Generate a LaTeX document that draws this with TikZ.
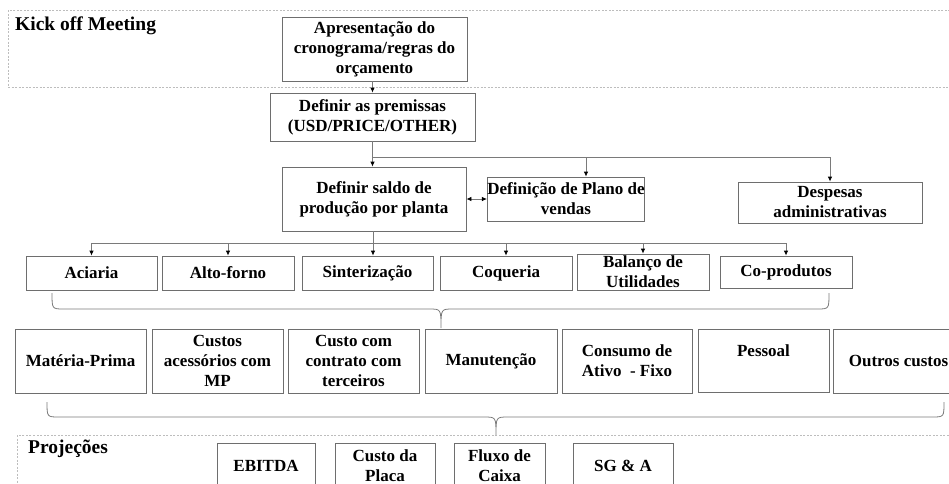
\documentclass[tikz,border=0pt]{standalone}
\usepackage{fontspec}
\setmainfont{Liberation Serif}
\usetikzlibrary{arrows.meta}
\definecolor{boxgray}{HTML}{6E6E6E}
\definecolor{linegray}{HTML}{7A7A7A}
\definecolor{zonegray}{HTML}{BDBDBD}

\begin{document}
\begin{tikzpicture}[x=1pt,y=-1pt,
  box/.style={draw=boxgray,line width=0.8pt,fill=white,align=center,inner sep=0pt,
    font=\fontsize{17}{20}\selectfont\bfseries},
  dims/.style 2 args={minimum width=#1pt,minimum height=#2pt},
  link/.style={draw=linegray,line width=0.8pt},
  arr/.style={link,-{Latex[length=5pt,width=4.5pt,color=black]}},
  dbl/.style={link,{Latex[length=5pt,width=4.5pt,color=black]}-{Latex[length=5pt,width=4.5pt,color=black]}},
  zone/.style={draw=zonegray,line width=0.8pt,dash pattern=on 2pt off 1.5pt},
  zonetitle/.style={anchor=west,inner sep=0pt,font=\fontsize{19.5}{22}\selectfont\bfseries}]
\useasboundingbox (0,0) rectangle (949,483);
\clip (0,0) rectangle (949,483);

% zones
\draw[zone] (8,10) rectangle (962,87);
\draw[zone] (17,435) rectangle (962,500);
\node[zonetitle] (kickoff) at (15,26) {Kick off Meeting};
\node[zonetitle] (projecoes) at (28,449) {Projeções};

% top of the flow
\node[box,dims={185}{64}] (apres) at (374.5,49) {Apresentação do\\cronograma/regras do\\orçamento};
\node[box,dims={205}{48}] (premissas) at (372.5,117) {Definir as premissas\\(USD/PRICE/OTHER)};
\node[box,dims={184}{64}] (saldo) at (374,199) {Definir saldo de\\produção por planta};
\node[box,dims={144}{44}] (plano) at (566,199) {Definição de Plano de\\vendas};
\node[box,dims={184}{41}] (despesas) at (830,202.5) {Despesas\\administrativas};

% plants
\node[box,dims={131}{34}] (aciaria) at (91.5,273) {Aciaria};
\node[box,dims={132}{34}] (altoforno) at (228,273) {Alto-forno};
\node[box,dims={131}{34}] (sinter) at (367.5,273) {Sinterização};
\node[box,dims={132}{34}] (coqueria) at (506,273) {Coqueria};
\node[box,dims={132}{36}] (balanco) at (643,272) {Balanço de\\Utilidades};
\node[box,dims={132}{32}] (coprod) at (786,272) {Co-produtos};

% cost items
\node[box,dims={131}{64}] (materia) at (80.5,361) {Matéria-Prima};
\node[box,dims={131}{64}] (acessorios) at (217.5,361) {Custos\\acessórios com\\MP};
\node[box,dims={131}{64}] (terceiros) at (353.5,361) {Custo com\\contrato com\\terceiros};
\node[box,dims={132}{64}] (manut) at (491,361) {Manutenção};
\node[box,dims={130}{64}] (consumo) at (627,361) {Consumo de\\Ativo\ \ - Fixo};
\node[box,dims={131}{63}] (pessoal) at (763.5,360.5) {Pessoal\\ \mbox{}};
\node[box,dims={131}{64}] (outros) at (898.5,361) {Outros custos};

% projections
\node[box,dims={98}{46}] (ebitda) at (266,466) {EBITDA};
\node[box,dims={100}{46}] (placa) at (385,466) {Custo da\\Placa};
\node[box,dims={91}{46}] (fluxo) at (499.5,466) {Fluxo de\\Caixa};
\node[box,dims={100}{46}] (sga) at (623,466) {SG \& A};

% connectors
\coordinate (fork) at (373,157);
\coordinate (bus) at (373,243);
\draw[arr] (premissas.north |- apres.south) -- (premissas.north);
\draw[arr] (premissas.south) -- (premissas.south |- saldo.north);
\draw[arr] (premissas.south |- fork) -| (despesas.north);
\draw[arr] ([xshift=20pt]plano.north |- fork) -- ([xshift=20pt]plano.north);
\draw[dbl] (saldo.east) -- (plano.west);
\draw[arr] (bus |- saldo.south) -- (bus |- sinter.north);
\draw[link] (aciaria.north |- bus) -- (coprod.north |- bus);
\foreach \plant in {aciaria,altoforno,coqueria,balanco,coprod}
  \draw[arr] (\plant.north |- bus) -- (\plant.north);

% braces
\draw[link] (52,293) .. controls (52,309) .. (64,309) -- (429,309)
  .. controls (441,309) .. (441,328) .. controls (441,309) .. (453,309)
  -- (817,309) .. controls (829,309) .. (829,293);
\draw[link] (47,402) .. controls (47,417) .. (59,417) -- (484,417)
  .. controls (496,417) .. (496,435) .. controls (496,417) .. (508,417)
  -- (932,417) .. controls (944,417) .. (944,402);
\end{tikzpicture}
\end{document}
